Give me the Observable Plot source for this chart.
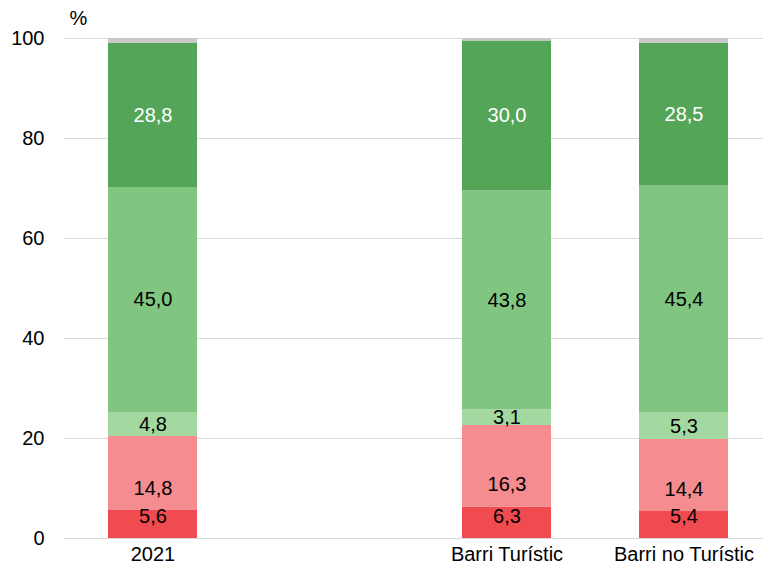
<!DOCTYPE html>
<html>
<head>
<meta charset="utf-8">
<script src="https://cdn.jsdelivr.net/npm/d3@7"></script>
<script src="https://cdn.jsdelivr.net/npm/@observablehq/plot@0.6"></script>
<style>
  html, body { margin: 0; padding: 0; background: #fff; }
  #chart { width: 763px; height: 565px; }
</style>
</head>
<body>
<div id="chart"></div>
<script>
// Categories (the blank one is the gap between 2021 and the neighbourhoods)
const categories = ["2021", "", "Barri Turístic", "Barri no Turístic"];
const barCategories = ["2021", "Barri Turístic", "Barri no Turístic"];

// Series values, bottom to top
const seriesNames = ["s1", "s2", "s3", "s4", "s5", "s6"];
const s1 = [5.6, 6.3, 5.4];
const s2 = [14.8, 16.3, 14.4];
const s3 = [4.8, 3.1, 5.3];
const s4 = [45.0, 43.8, 45.4];
const s5 = [28.8, 30.0, 28.5];
const s6 = [1.0, 0.5, 1.0];   // unlabelled grey remainder
const seriesValues = [s1, s2, s3, s4, s5, s6];
const seriesColors = ["#f04b50", "#f58c8f", "#a3d9a0", "#80c680", "#55a558", "#c9c9c9"];
const yTicks = [0, 20, 40, 60, 80, 100];

// Build stacked rows
const rows = [];
barCategories.forEach((cat, i) => {
  let base = 0;
  seriesValues.forEach((vals, k) => {
    const v = vals[i];
    rows.push({cat, series: seriesNames[k], k, value: v, y1: base, y2: base + v});
    base += v;
  });
});
const labelRows = rows.filter(d => d.k < 5);
const fmt = v => v.toFixed(1).replace(".", ",");

const font = "Liberation Sans, Arial, Helvetica, sans-serif";
const fs = 20;

const chart = Plot.plot({
  width: 763,
  height: 565,
  marginLeft: 64,
  marginRight: 0,
  marginTop: 38,
  marginBottom: 27,
  style: {fontFamily: font, fontSize: fs + "px", background: "#fff", color: "#000"},
  x: {domain: categories, range: [64, 772], paddingInner: 0.5, paddingOuter: 0.25},
  y: {domain: [0, 100]},
  color: {domain: seriesNames, range: seriesColors},
  marks: [
    Plot.gridY(yTicks, {stroke: "#d9d9d9", strokeOpacity: 1, strokeWidth: 1}),
    Plot.barY(rows, {x: "cat", y1: "y1", y2: "y2", fill: "series"}),
    // bottom two series: labels near the segment base
    Plot.text(labelRows.filter(d => d.k < 2), {
      x: "cat", y: "y1", dy: -22, text: d => fmt(d.value),
      fill: "#000", fontSize: fs, lineAnchor: "middle"
    }),
    // other series: centred labels
    Plot.text(labelRows.filter(d => d.k >= 2), {
      x: "cat", y: d => (d.y1 + d.y2) / 2, text: d => fmt(d.value),
      fill: d => d.k === 4 ? "#fff" : "#000", fontSize: fs, lineAnchor: "middle"
    }),
    Plot.axisY(yTicks, {tickSize: 0, tickPadding: 20, fontSize: fs, label: null}),
    Plot.axisX({tickSize: 0, tickPadding: 8, fontSize: fs, label: null, tickFormat: d => d}),
    Plot.text(["%"], {frameAnchor: "top-left", dx: 5, dy: -20, text: d => d, fontSize: fs, textAnchor: "start", lineAnchor: "middle"})
  ]
});
document.getElementById("chart").appendChild(chart);
</script>
</body>
</html>
